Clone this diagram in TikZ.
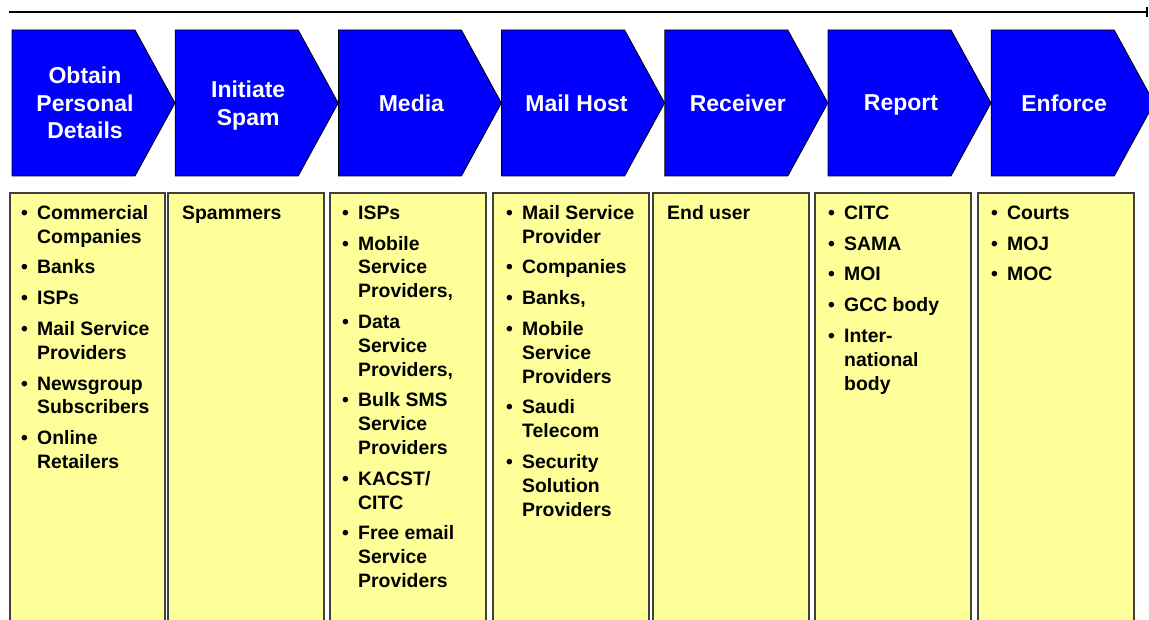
\documentclass[tikz,border=0pt]{standalone}
\usepackage{fontspec}
\setmainfont{Liberation Sans}
\usetikzlibrary{arrows.meta}
\definecolor{boxyellow}{RGB}{255,255,153}
\definecolor{chevblue}{RGB}{0,0,252}
\newcommand\itm[1]{\nointerlineskip\hbox{\makebox[14pt][l]{\hspace{-2pt}\textbullet}\begin{tabular}[t]{@{}l@{}}#1\end{tabular}}\vskip7pt}
\newcommand\col[1]{\vtop{\hsize=150pt\parindent=0pt #1}}
\tikzset{
  chev/.style={fill=chevblue,draw=black,line width=0.8pt,line join=miter},
  ybox/.style={fill=boxyellow,draw=black!75,line width=1.3pt},
  head/.style={text=white,align=center,inner sep=0pt,text depth=0pt,font=\bfseries\fontsize{23}{27.5}\selectfont},
  body/.style={anchor=north west,inner sep=0pt,font=\bfseries\fontsize{19.4}{23.8}\selectfont}
}
\begin{document}
\begin{tikzpicture}[x=1pt,y=-1pt]
\useasboundingbox (0,0) rectangle (1149,620);
\coordinate (tl) at (9,12);
\coordinate (tr) at (1148,12);
\draw[line width=2.7pt,-{Bar[width=10pt,line width=1.6pt]}] (tl) -- (tr);
% chevrons
\foreach \i/\L in {1/12,2/175.2,3/338.4,4/501.6,5/664.8,6/828,7/991.2}{
  \draw[chev] (\L,30) -- ++(123,0) -- ++(40,73) -- ++(-40,73) -- ++(-123,0) -- cycle;
}
\node[head] (h1) at (85,103) {Obtain\\Personal\\Details};
\node[head] (h2) at (248.2,103) {Initiate\\Spam};
\node[head] (h3) at (411.4,103) {Media};
\node[head] (h4) at (576.5,103) {Mail Host};
\node[head] (h5) at (737.8,103) {Receiver};
\node[head] (h6) at (901,103) {Report};
\node[head] (h7) at (1064.2,103) {Enforce};
% boxes
\foreach \a/\b in {10/165,168/324,330/486,493/649,653/809,815/971,978/1134}{
  \draw[ybox] (\a,635) -- (\a,193) -- (\b,193) -- (\b,635);
}
\node[body] (b1) at (23,202.4) {\col{\itm{Commercial\\Companies}\itm{Banks}\itm{ISPs}\itm{Mail Service\\Providers}\itm{Newsgroup\\Subscribers}\itm{Online\\Retailers}}};
\node[body] (b2) at (182,202.4) {\strut Spammers};
\node[body] (b3) at (344,202.4) {\col{\itm{ISPs}\itm{Mobile\\Service\\Providers,}\itm{Data\\Service\\Providers,}\itm{Bulk SMS\\Service\\Providers}\itm{KACST/\\CITC}\itm{Free email\\Service\\Providers}}};
\node[body] (b4) at (508,202.4) {\col{\itm{Mail Service\\Provider}\itm{Companies}\itm{Banks,}\itm{Mobile\\Service\\Providers}\itm{Saudi\\Telecom}\itm{Security\\Solution\\Providers}}};
\node[body] (b5) at (667,202.4) {\strut End user};
\node[body] (b6) at (830,202.4) {\col{\itm{CITC}\itm{SAMA}\itm{MOI}\itm{GCC body}\itm{Inter-\\national\\body}}};
\node[body] (b7) at (993,202.4) {\col{\itm{Courts}\itm{MOJ}\itm{MOC}}};
\end{tikzpicture}
\end{document}
